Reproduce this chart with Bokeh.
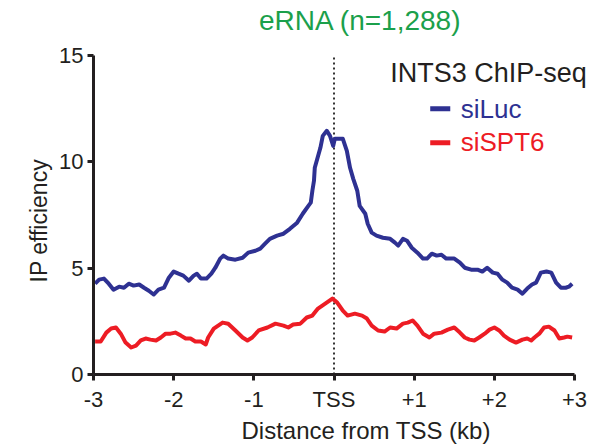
from bokeh.plotting import figure
from bokeh.models import Range1d, FixedTicker, Label, Title
from bokeh.embed import file_html
from bokeh.resources import INLINE

# ---- data ----
x_siLuc = [-2.98, -2.93, -2.87, -2.81, -2.75, -2.68, -2.62, -2.56, -2.50, -2.43, -2.37, -2.31, -2.25,
           -2.19, -2.12, -2.06, -2.00, -1.94, -1.88, -1.81, -1.75, -1.71, -1.66, -1.59, -1.53, -1.48,
           -1.42, -1.38, -1.32, -1.23, -1.14, -1.07, -0.98, -0.92, -0.86, -0.80, -0.71, -0.63, -0.55,
           -0.46, -0.39, -0.32, -0.29, -0.27, -0.25, -0.24, -0.17, -0.14, -0.09, -0.05, -0.01, 0.01,
           0.07, 0.11, 0.16, 0.20, 0.24, 0.29, 0.32, 0.39, 0.42, 0.47, 0.53, 0.61, 0.70, 0.76, 0.80,
           0.86, 0.91, 0.97, 1.04, 1.11, 1.16, 1.22, 1.28, 1.34, 1.40, 1.50, 1.57, 1.63, 1.71, 1.79,
           1.85, 1.91, 1.98, 2.04, 2.10, 2.16, 2.22, 2.29, 2.35, 2.41, 2.47, 2.52, 2.58, 2.65, 2.71,
           2.77, 2.83, 2.89, 2.93, 2.97]
y_siLuc = [4.27, 4.46, 4.51, 4.27, 3.99, 4.13, 4.08, 4.27, 4.18, 4.23, 4.08, 3.94, 3.76,
           3.99, 4.08, 4.55, 4.84, 4.74, 4.65, 4.41, 4.65, 4.74, 4.51, 4.51, 4.74, 5.02,
           5.45, 5.59, 5.45, 5.40, 5.49, 5.73, 5.82, 5.92, 6.15, 6.38, 6.53, 6.62, 6.85,
           7.14, 7.56, 7.93, 8.08, 8.64, 9.11, 9.72, 10.66, 11.22, 11.46, 11.22, 10.75, 11.08,
           11.08, 11.08, 10.52, 9.72, 9.20, 8.64, 7.93, 7.56, 7.09, 6.67, 6.53, 6.43, 6.38, 6.20, 6.06,
           6.38, 6.29, 5.96, 5.73, 5.45, 5.45, 5.68, 5.59, 5.63, 5.45, 5.45, 5.26, 5.02, 4.93, 4.93,
           4.84, 5.02, 4.79, 4.74, 4.46, 4.32, 4.08, 3.99, 3.80, 4.04, 4.23, 4.32, 4.79, 4.84, 4.79,
           4.32, 4.08, 4.08, 4.13, 4.27]

x_siSPT6 = [-2.98, -2.91, -2.84, -2.78, -2.72, -2.66, -2.60, -2.53, -2.47, -2.41, -2.35, -2.29, -2.22,
            -2.16, -2.10, -2.04, -1.98, -1.91, -1.85, -1.79, -1.73, -1.66, -1.60, -1.57, -1.50, -1.39,
            -1.32, -1.23, -1.14, -1.08, -1.02, -0.94, -0.83, -0.73, -0.63, -0.57, -0.51, -0.42, -0.34,
            -0.27, -0.20, -0.11, -0.02, 0.04, 0.11, 0.17, 0.26, 0.35, 0.41, 0.47, 0.55, 0.63, 0.70,
            0.78, 0.86, 0.92, 0.98, 1.04, 1.11, 1.19, 1.25, 1.34, 1.42, 1.50, 1.57, 1.63, 1.69, 1.75,
            1.81, 1.88, 1.94, 2.00, 2.06, 2.12, 2.19, 2.27, 2.35, 2.41, 2.46, 2.50, 2.56, 2.62, 2.68,
            2.75, 2.81, 2.87, 2.91, 2.97]
y_siSPT6 = [1.55, 1.55, 1.97, 2.16, 2.21, 1.92, 1.50, 1.27, 1.36, 1.60, 1.69, 1.64, 1.60,
            1.74, 1.92, 1.92, 1.97, 1.83, 1.69, 1.69, 1.55, 1.55, 1.41, 1.74, 2.16, 2.44,
            2.39, 2.07, 1.74, 1.60, 1.74, 2.07, 2.21, 2.39, 2.30, 2.21, 2.35, 2.39, 2.68,
            2.77, 3.10, 3.33, 3.57, 3.38, 3.00, 2.77, 2.86, 2.77, 2.63, 2.30, 2.07, 2.02, 2.21,
            2.16, 2.39, 2.44, 2.54, 2.30, 1.92, 1.74, 1.92, 1.97, 2.11, 2.21, 1.97, 1.74, 1.64, 1.60,
            1.74, 1.92, 2.11, 2.21, 2.07, 1.83, 1.64, 1.50, 1.64, 1.69, 1.60, 1.74, 1.92, 2.21, 2.25,
            2.07, 1.69, 1.74, 1.78, 1.74]

x_ticks = [-3, -2, -1, 0, 1, 2, 3]
x_tick_labels = ["-3", "-2", "-1", "TSS", "+1", "+2", "+3"]
y_ticks = [0, 5, 10, 15]
tss_position = 0

title_text = "eRNA (n=1,288)"
x_label = "Distance from TSS (kb)"
y_label = "IP efficiency"
legend_title = "INTS3 ChIP-seq"
series_names = ["siLuc", "siSPT6"]

BLUE = "#2E3192"
RED = "#ED1C24"
GREEN = "#1BA04B"
INK = "#231F20"
FONT = "Liberation Sans"

# frame spans to the top and right edges so annotation texts are not clipped;
# axes are bounded to the data extents (-3..3, 0..15)
p = figure(width=596, height=444, output_backend="svg", toolbar_location=None,
           x_range=Range1d(-3, 3.274), y_range=Range1d(0, 17.586),
           min_border_left=93, min_border_right=0, min_border_top=0, min_border_bottom=70)
p.outline_line_color = None
p.xgrid.visible = False
p.ygrid.visible = False
p.background_fill_color = "white"
p.border_fill_color = "white"

for ax in (p.xaxis[0], p.yaxis[0]):
    ax.axis_line_width = 3
    ax.axis_line_color = INK
    ax.major_tick_line_width = 3
    ax.major_tick_line_color = INK
    ax.major_tick_out = 6
    ax.major_tick_in = 0
    ax.minor_tick_line_color = None
    ax.major_label_text_font = FONT
    ax.major_label_text_font_size = "22px"
    ax.major_label_text_color = INK

p.xaxis.bounds = (-3, 3)
p.xaxis.ticker = FixedTicker(ticks=x_ticks)
p.xaxis.major_label_overrides = {t: l for t, l in zip(x_ticks, x_tick_labels)}
p.xaxis.major_label_standoff = 6
p.yaxis.bounds = (0, 15)
p.yaxis.ticker = FixedTicker(ticks=y_ticks)
p.yaxis.major_label_standoff = 4

# axis titles as Title annotations in the side panels
p.add_layout(Title(text=y_label, align="left", offset=92, standoff=10,
                   text_font=FONT, text_font_size="23px", text_font_style="normal",
                   text_color=INK), "left")
p.add_layout(Title(text=x_label, align="left", offset=148, standoff=1,
                   text_font=FONT, text_font_size="24px", text_font_style="normal",
                   text_color=INK), "below")

# chart title inside the (extended) frame
p.add_layout(Label(x=0.33, y=16.64, text=title_text, text_font=FONT, text_font_size="28px",
                   text_color=GREEN, text_align="center", text_baseline="middle"))

# dotted TSS line (0..15)
p.segment(x0=[tss_position], y0=[y_ticks[0]], x1=[tss_position], y1=[y_ticks[-1]],
          line_color="#333333", line_width=2, line_dash="2 3")

p.line(x_siSPT6, y_siSPT6, line_color=RED, line_width=4, line_join="round")
p.line(x_siLuc, y_siLuc, line_color=BLUE, line_width=4, line_join="round")

# legend
p.add_layout(Label(x=0.70, y=14.2, text=legend_title, text_font=FONT, text_font_size="27px",
                   text_color=INK, text_align="left", text_baseline="middle"))
p.add_layout(Label(x=1.58, y=12.5, text=series_names[0], text_font=FONT, text_font_size="26px",
                   text_color=BLUE, text_align="left", text_baseline="middle"))
p.add_layout(Label(x=1.58, y=10.95, text=series_names[1], text_font=FONT, text_font_size="26px",
                   text_color=RED, text_align="left", text_baseline="middle"))
p.segment(x0=[1.20], y0=[12.5], x1=[1.45], y1=[12.5], line_color=BLUE, line_width=5)
p.segment(x0=[1.20], y0=[10.9], x1=[1.45], y1=[10.9], line_color=RED, line_width=5)

open("out.html", "w").write(file_html(p, INLINE))
